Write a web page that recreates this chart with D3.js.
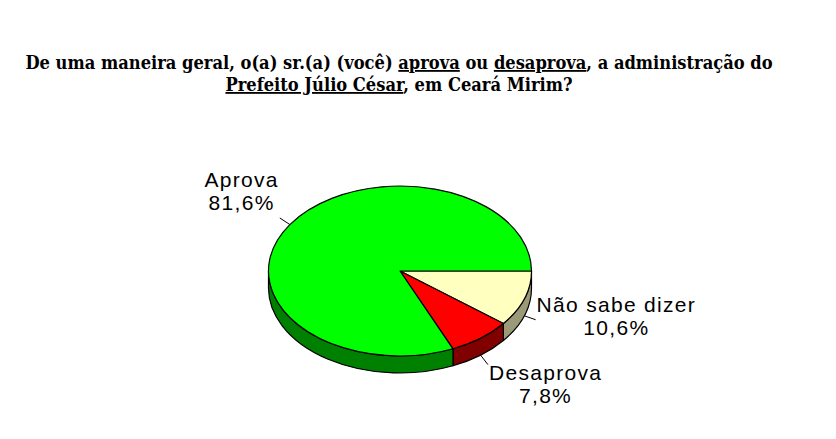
<!DOCTYPE html>
<html>
<head>
<meta charset="utf-8">
<script src="https://cdn.jsdelivr.net/npm/d3@7"></script>
<style>
  body { margin: 0; background: #fff; }
  .title { font-family: "DejaVu Serif Condensed", "DejaVu Serif", serif; font-weight: bold; font-size: 16px; fill: #000; }
  .label { font-family: "Liberation Sans", Arial, sans-serif; font-size: 21px; letter-spacing: 1.3px; fill: #000; }
</style>
</head>
<body>
<script>
// data
var categories = ["Não sabe dizer", "Desaprova", "Aprova"];
var values = [10.6, 7.8, 81.6];
var valueLabels = ["10,6%", "7,8%", "81,6%"];
var topColors = ["#FFFFC0", "#FF0000", "#00FF00"];
var sideColors = ["#9A9A78", "#800000", "#008000"];

var w = 836, h = 439;
var cx = 400, cy = 271, rx = 131.5, ry = 85, depth = 17;

var svg = d3.select("body").append("svg")
    .attr("width", w)
    .attr("height", h);

// title, with underlined words
var titleLines = [
    [["De uma maneira geral, o(a) sr.(a) (você) ", false], ["aprova", true], [" ou ", false],
     ["desaprova", true], [", a administração do", false]],
    [["Prefeito Júlio César", true], [", em Ceará Mirim?", false]]
];

var titleTexts = titleLines.map(function(parts, i){
    var t = svg.append("text")
        .attr("class", "title")
        .attr("x", 399)
        .attr("y", 69 + i * 22)
        .attr("text-anchor", "middle");
    parts.forEach(function(p){
        t.append("tspan")
            .style("text-decoration", p[1] ? "underline" : null)
            .text(p[0]);
    });
    return t;
});
// fit first line to the reference width (~748px)
var len0 = titleTexts[0].node().getComputedTextLength();
var fs = 16 * 748 / len0;
titleTexts.forEach(function(t){ t.style("font-size", fs + "px"); });

// pie angles, starting at 3 o'clock and going clockwise
var pie = d3.pie().sort(null).startAngle(Math.PI / 2).endAngle(Math.PI / 2 + 2 * Math.PI);
var arcs = pie(values);

function theta(a){ return a - Math.PI / 2; }
function pt(t, dy){ return [cx + rx * Math.cos(t), cy + ry * Math.sin(t) + (dy || 0)]; }

// sides (front half only)
var sides = svg.append("g");
arcs.forEach(function(d, i){
    var t0 = Math.max(theta(d.startAngle), 0);
    var t1 = Math.min(theta(d.endAngle), Math.PI);
    if (t1 <= t0) return;
    var a = pt(t0), b = pt(t1), c = pt(t1, depth), e = pt(t0, depth);
    sides.append("path")
        .attr("d", "M" + a + "A" + rx + "," + ry + " 0 0 1 " + b +
                   "L" + c + "A" + rx + "," + ry + " 0 0 0 " + e + "Z")
        .attr("fill", sideColors[i])
        .attr("stroke", "#000")
        .attr("stroke-width", 1.2)
        .attr("stroke-linejoin", "round");
});

// tops
var tops = svg.append("g");
arcs.forEach(function(d, i){
    var t0 = theta(d.startAngle), t1 = theta(d.endAngle);
    var a = pt(t0), b = pt(t1);
    var large = (t1 - t0) > Math.PI ? 1 : 0;
    tops.append("path")
        .attr("d", "M" + cx + "," + cy + "L" + a + "A" + rx + "," + ry + " 0 " + large + " 1 " + b + "Z")
        .attr("fill", topColors[i])
        .attr("stroke", "#000")
        .attr("stroke-width", 1.2)
        .attr("stroke-linejoin", "round");
});

// leader lines and labels
var labels = svg.append("g");
arcs.forEach(function(d, i){
    var tm = theta((d.startAngle + d.endAngle) / 2);
    var cos = Math.cos(tm), sin = Math.sin(tm);
    var front = sin > 0;
    var s = pt(tm, front ? depth : 0);
    var e = [s[0] + cos * 12, s[1] + sin * 12];
    labels.append("line")
        .attr("x1", s[0]).attr("y1", s[1])
        .attr("x2", e[0]).attr("y2", e[1])
        .attr("stroke", "#000")
        .attr("stroke-width", 1);

    var txt = labels.append("text")
        .attr("class", "label")
        .attr("text-anchor", "middle");
    var l1 = txt.append("tspan").text(categories[i]);
    var l2 = txt.append("tspan").text(valueLabels[i]);
    var bw = Math.max(l1.node().getComputedTextLength(), l2.node().getComputedTextLength());
    var lh = 23, bh = lh * 2;
    var mx = e[0] + (cos > 0 ? 1 : -1) * (bw / 2 + 1);
    var my = e[1] + (Math.abs(sin) > 0.5 ? (sin > 0 ? 1 : -1) * bh / 2 : 0);
    l1.attr("x", mx).attr("y", my - lh / 2 + 4);
    l2.attr("x", mx).attr("y", my + lh / 2 + 4);
});
</script>
</body>
</html>
